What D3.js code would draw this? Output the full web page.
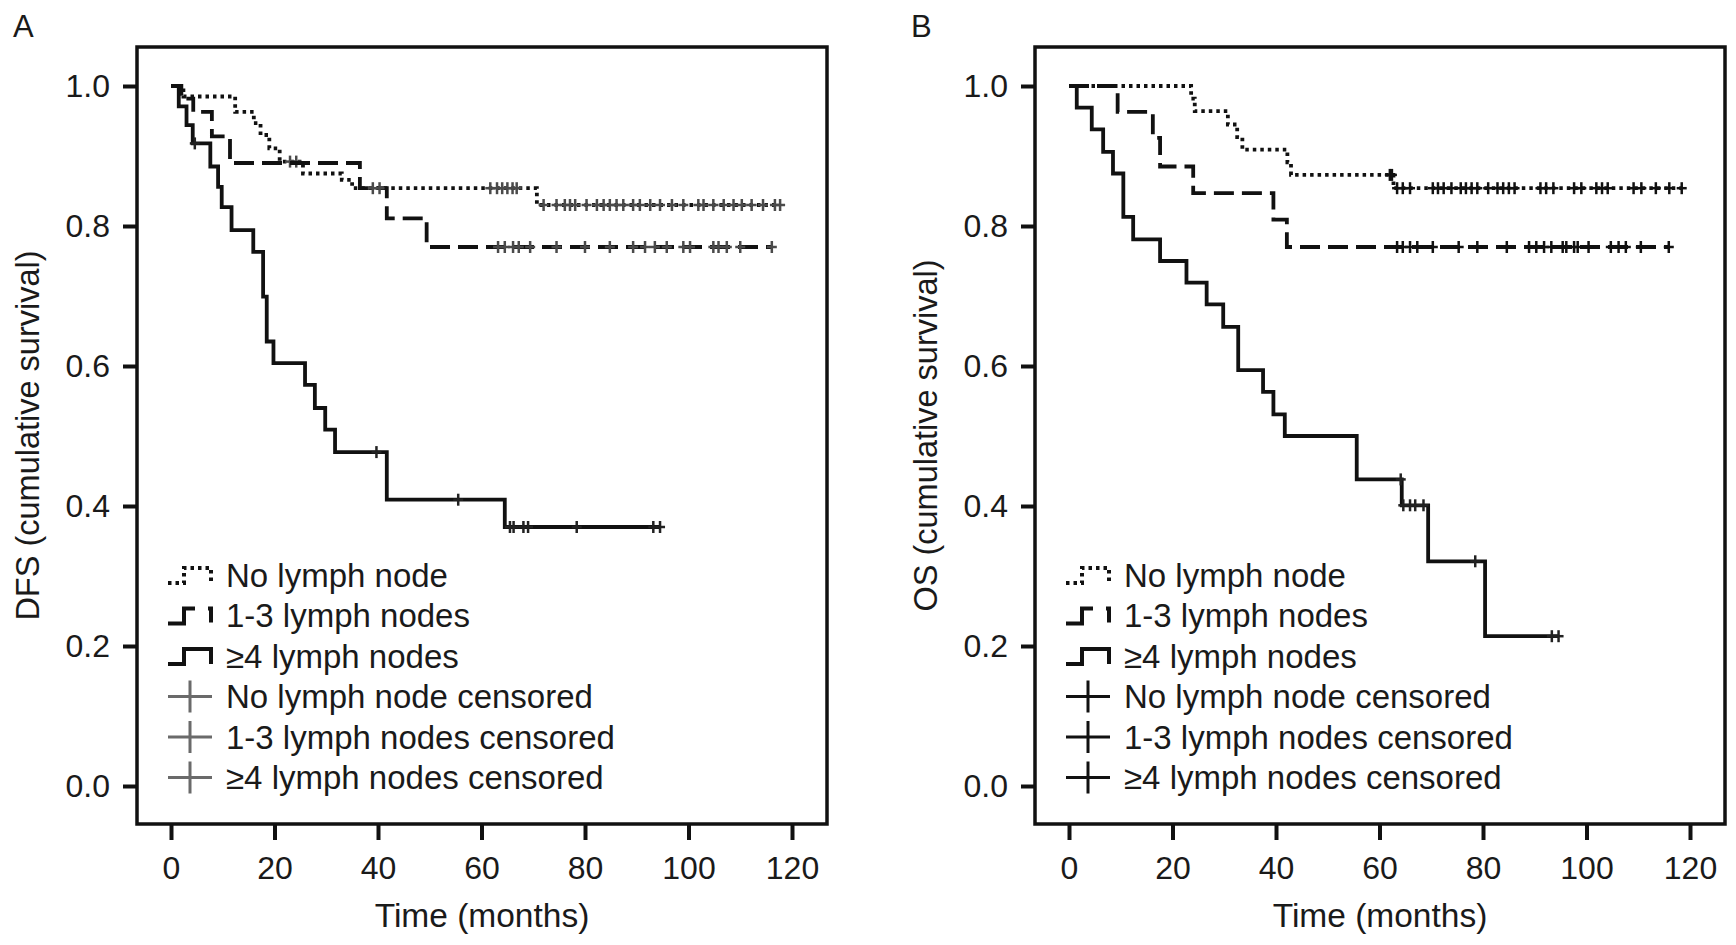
<!DOCTYPE html>
<html>
<head>
<meta charset="utf-8">
<script src="https://cdn.jsdelivr.net/npm/d3@7"></script>
<style>
  html, body { margin: 0; padding: 0; background: #fff; }
  svg { display: block; }
  text { font-family: 'Liberation Sans', Arial, sans-serif; fill: #1a1a1a; }
</style>
</head>
<body>
<svg id="chart" width="1736" height="945"></svg>
<script>
// Kaplan-Meier steps: [month, survival from that month on]
const dfsNoneSteps = [[0, 1], [2.4, 0.985], [12.4, 0.963], [16, 0.947], [17.3, 0.93], [19, 0.911],
  [21, 0.892], [25.5, 0.875], [33, 0.866], [35, 0.854], [70.7, 0.83]];
const dfsNoneEnd = 117.7;
const dfsNoneCensored = [23, 24.2, 61.7, 63, 64, 65, 66, 66.8, 72, 74.5, 76.1, 77.1, 78.1, 80.3, 82.3,
  83.6, 84.8, 86.1, 87.4, 89.3, 90.6, 92.6, 94.5, 96.8, 99, 101.9, 102.9, 104.8, 106.8, 108.7,
  110.3, 112.2, 114.4, 116.7, 117.7];

const dfsMidSteps = [[0, 1], [2, 0.982], [4.3, 0.963], [7.9, 0.928], [11.4, 0.89], [36.5, 0.854],
  [41.7, 0.811], [49.4, 0.77]];
const dfsMidEnd = 116.1;
const dfsMidCensored = [39, 40.3, 63.2, 64.5, 66.1, 67.2, 69.4, 74.5, 80, 84.8, 89.3, 91.6, 93.5,
  95.8, 99, 100.3, 104.8, 105.8, 107.4, 110, 116.1];

const dfsHighSteps = [[0, 1], [1.5, 0.971], [3, 0.944], [4.2, 0.918], [7.6, 0.885], [9.1, 0.856],
  [9.8, 0.827], [11.7, 0.794], [15.9, 0.763], [17.8, 0.699], [18.5, 0.635], [19.8, 0.604],
  [25.9, 0.573], [27.8, 0.54], [29.8, 0.509], [31.7, 0.477], [41.7, 0.409], [64.5, 0.37]];
const dfsHighEnd = 94.5;
const dfsHighCensored = [4.6, 39.7, 55.5, 65.5, 66.2, 68.1, 69, 78.4, 93.2, 94.5];

const osNoneSteps = [[0, 1], [23.6, 0.982], [24.3, 0.964], [30.7, 0.945], [32.5, 0.927], [33.5, 0.909],
  [42.2, 0.891], [42.9, 0.873], [62.7, 0.854]];
const osNoneEnd = 118.4;
const osNoneCensored = [62, 62.4, 63.4, 64.5, 65.9, 70.3, 71.3, 72.4, 73.9, 75.7, 76.7, 77.8, 78.9, 81,
  82.8, 83.9, 85, 86.1, 91.1, 92.2, 93.6, 97.6, 99, 101.9, 103, 104.1, 109.1, 110.6, 113.4, 116, 118.4];

const osMidSteps = [[0, 1], [9.4, 0.963], [16.2, 0.926], [17.6, 0.885], [24, 0.847], [39.5, 0.809],
  [42.1, 0.77]];
const osMidEnd = 115.9;
const osMidCensored = [63.4, 64.5, 65.9, 67.3, 70.3, 75.3, 78.9, 84.6, 88.9, 90.3, 91.8, 93.2, 95.4,
  96.1, 97.6, 98.3, 100.4, 104.7, 106.2, 107.6, 110.5, 115.9];

const osHighSteps = [[0, 1], [1.5, 0.969], [4.4, 0.938], [6.6, 0.906], [8.5, 0.875], [10.5, 0.813],
  [12.4, 0.781], [17.6, 0.75], [22.7, 0.719], [26.6, 0.688], [29.8, 0.656], [32.7, 0.594],
  [37.5, 0.563], [39.5, 0.531], [41.7, 0.5], [55.6, 0.438], [64.3, 0.401], [69.4, 0.321], [80.4, 0.214]];
const osHighEnd = 94.6;
const osHighCensored = [64.1, 64.6, 65.9, 66.9, 68.5, 78.5, 93.3, 94.6];

const xTicks = [0, 20, 40, 60, 80, 100, 120];
const yTicks = [0, 0.2, 0.4, 0.6, 0.8, 1.0];
const legendLabels = ['No lymph node', '1-3 lymph nodes', '\u22654 lymph nodes',
  'No lymph node censored', '1-3 lymph nodes censored', '\u22654 lymph nodes censored'];

const panels = [
  {
    letter: 'A', title: 'DFS (cumulative survival)', dx: 0, censorColor: '#4a4a4a', legendCross: '#6a6a6a',
    series: [
      { steps: dfsNoneSteps, end: dfsNoneEnd, censored: dfsNoneCensored },
      { steps: dfsMidSteps, end: dfsMidEnd, censored: dfsMidCensored },
      { steps: dfsHighSteps, end: dfsHighEnd, censored: dfsHighCensored },
    ],
  },
  {
    letter: 'B', title: 'OS (cumulative survival)', dx: 898, censorColor: '#111', legendCross: '#111',
    series: [
      { steps: osNoneSteps, end: osNoneEnd, censored: osNoneCensored },
      { steps: osMidSteps, end: osMidEnd, censored: osMidCensored },
      { steps: osHighSteps, end: osHighEnd, censored: osHighCensored },
    ],
  },
];

// line style per group: dotted, dashed, solid
const lineDash = ['3.5,4', '20,8', null];
const legendDash = ['3.5,4', '42,13,17', null];

const frame = { left: 137, right: 827, top: 47, bottom: 824 };
const svg = d3.select('#chart');

function survivalAt(steps, t) {
  let s = 1;
  for (const [tt, v] of steps) if (tt <= t) s = v;
  return s;
}

function drawPanel(p) {
  const g = svg.append('g').attr('transform', `translate(${p.dx},0)`);

  const x = d3.scaleLinear().domain([0, 120]).range([171, 792]);
  const y = d3.scaleLinear().domain([0, 1]).range([786, 86]);

  g.append('text')
    .attr('x', 13).attr('y', 37)
    .attr('font-size', 31)
    .text(p.letter);

  // axes (domain line replaced by the frame)
  const yAxis = g.append('g')
    .attr('transform', `translate(${frame.left},0)`)
    .call(d3.axisLeft(y).tickValues(yTicks).tickFormat(d3.format('.1f')).tickSize(14).tickPadding(13));
  const xAxis = g.append('g')
    .attr('transform', `translate(0,${frame.bottom})`)
    .call(d3.axisBottom(x).tickValues(xTicks).tickSize(16).tickPadding(16));

  [yAxis, xAxis].forEach((a) => {
    a.select('.domain').remove();
    a.selectAll('.tick line').attr('stroke', '#111').attr('stroke-width', 4);
    a.selectAll('.tick text')
      .attr('font-size', 32)
      .attr('font-family', "'Liberation Sans', Arial, sans-serif")
      .attr('fill', '#1a1a1a');
  });

  g.append('rect')
    .attr('x', frame.left).attr('y', frame.top)
    .attr('width', frame.right - frame.left)
    .attr('height', frame.bottom - frame.top)
    .attr('fill', 'none')
    .attr('stroke', '#111')
    .attr('stroke-width', 3.5);

  g.append('text')
    .attr('transform', `translate(28,${(frame.top + frame.bottom) / 2}) rotate(-90)`)
    .attr('text-anchor', 'middle')
    .attr('dy', '0.35em')
    .attr('font-size', 32.5)
    .text(p.title);

  g.append('text')
    .attr('x', (frame.left + frame.right) / 2)
    .attr('y', 927)
    .attr('text-anchor', 'middle')
    .attr('font-size', 33.5)
    .text('Time (months)');

  const line = d3.line()
    .x((d) => x(d[0]))
    .y((d) => y(d[1]))
    .curve(d3.curveStepAfter);

  p.series.forEach((s, i) => {
    const pts = s.steps.concat([[s.end, s.steps[s.steps.length - 1][1]]]);
    g.append('path')
      .datum(pts)
      .attr('d', line)
      .attr('fill', 'none')
      .attr('stroke', '#111')
      .attr('stroke-width', 3.8)
      .attr('stroke-dasharray', lineDash[i]);

    const marks = g.append('g')
      .attr('stroke', i === 2 ? '#222' : p.censorColor)
      .attr('stroke-width', 2.5);
    s.censored.forEach((t) => {
      const cx = x(t), cy = y(survivalAt(s.steps, t));
      marks.append('line').attr('x1', cx - 5).attr('x2', cx + 5).attr('y1', cy).attr('y2', cy);
      marks.append('line').attr('x1', cx).attr('x2', cx).attr('y1', cy - 6).attr('y2', cy + 6);
    });
  });

  // legend
  const legend = g.append('g');
  legendLabels.forEach((label, i) => {
    const cy = 575 + i * 40.5;
    if (i < 3) {
      legend.append('path')
        .attr('d', `M168,${cy + 8}H184V${cy - 7}H211V${cy + 8}`)
        .attr('fill', 'none')
        .attr('stroke', '#111')
        .attr('stroke-width', 4)
        .attr('stroke-dasharray', legendDash[i]);
    } else {
      legend.append('path')
        .attr('d', `M168,${cy}H212M190,${cy - 16}V${cy + 16}`)
        .attr('stroke', p.legendCross)
        .attr('stroke-width', 3);
    }
    legend.append('text')
      .attr('x', 226).attr('y', cy)
      .attr('dy', '0.35em')
      .attr('font-size', 33)
      .text(label);
  });
}

panels.forEach(drawPanel);
</script>
</body>
</html>
